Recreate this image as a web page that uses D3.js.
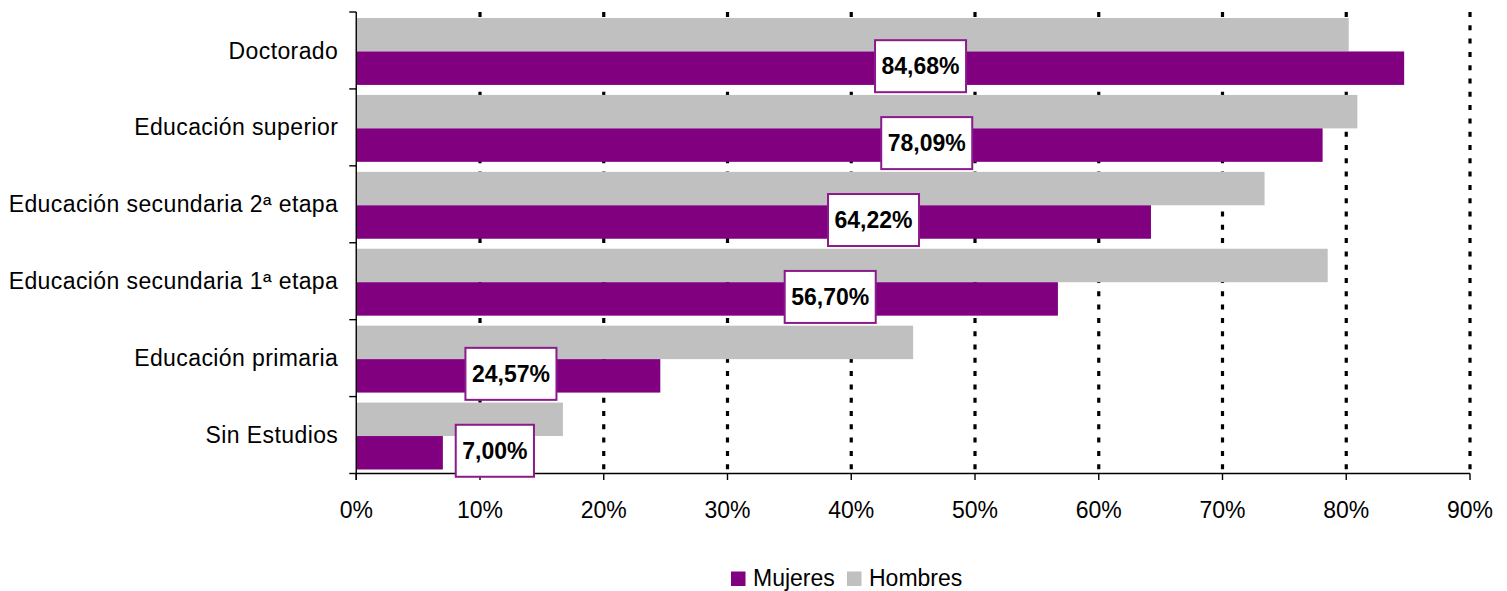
<!DOCTYPE html>
<html>
<head>
<meta charset="utf-8">
<script src="https://cdn.jsdelivr.net/npm/d3@7"></script>
<style>
  html, body { margin: 0; padding: 0; background: #fff; }
  svg { display: block; }
  text { font-family: "Liberation Sans", Arial, sans-serif; }
</style>
</head>
<body>
<svg id="chart" width="1507" height="591"></svg>
<script>
// ---- Data ----
const categories = ["Doctorado", "Educación superior", "Educación secundaria 2ª etapa",
                    "Educación secundaria 1ª etapa", "Educación primaria", "Sin Estudios"];
const mujeres = [84.68, 78.09, 64.22, 56.70, 24.57, 7.00];
const hombres = [80.2, 80.9, 73.4, 78.5, 45.0, 16.7];
const mujeresLabels = ["84,68%", "78,09%", "64,22%", "56,70%", "24,57%", "7,00%"];
// label box centres, in axis units (%), as placed in the original chart
const labelCenter = [45.6, 46.1, 41.8, 38.3, 12.5, 11.2];
const xTicks = [0, 10, 20, 30, 40, 50, 60, 70, 80, 90];
const seriesNames = ["Mujeres", "Hombres"];
const colors = { Mujeres: "#800080", Hombres: "#C0C0C0" };

// ---- Layout ----
const svg = d3.select("#chart");
const x = d3.scaleLinear().domain([0, 90]).range([356.25, 1470]);
const y = d3.scaleBand().domain(categories).range([12, 473.5]).padding(0);
const bw = y.bandwidth();
const inner = d3.scaleBand().domain(["Hombres", "Mujeres"]).range([bw * 0.078, bw * 0.948]).padding(0);

const plotTop = 12, plotBottom = 473.5;

// gridlines (dotted)
svg.append("g").selectAll("line")
  .data(xTicks.filter(d => d > 0))
  .join("line")
  .attr("x1", d => x(d)).attr("x2", d => x(d))
  .attr("y1", plotTop).attr("y2", plotBottom)
  .attr("stroke", "#000").attr("stroke-width", 3.2)
  .attr("stroke-dasharray", "5,8.3");

// bars
const rows = categories.map((c, i) => ({ c, m: mujeres[i], h: hombres[i], lab: mujeresLabels[i], lc: labelCenter[i] }));
const g = svg.append("g");
g.selectAll("rect.h").data(rows).join("rect")
  .attr("x", x(0)).attr("y", d => y(d.c) + inner("Hombres"))
  .attr("width", d => x(d.h) - x(0)).attr("height", inner.bandwidth())
  .attr("fill", colors.Hombres);
g.selectAll("rect.m").data(rows).join("rect")
  .attr("x", x(0)).attr("y", d => y(d.c) + inner("Mujeres"))
  .attr("width", d => x(d.m) - x(0)).attr("height", inner.bandwidth())
  .attr("fill", colors.Mujeres);

// axes
const yAxis = svg.append("g").attr("transform", `translate(${x(0)},0)`);
yAxis.append("line").attr("x1", 0).attr("x2", 0).attr("y1", plotTop).attr("y2", plotBottom + 6.5)
  .attr("stroke", "#000").attr("stroke-width", 1.4);
const bounds = categories.map(c => y(c)).concat([plotBottom]);
yAxis.selectAll("line.t").data(bounds).join("line")
  .attr("x1", -7).attr("x2", 0).attr("y1", d => d).attr("y2", d => d)
  .attr("stroke", "#000").attr("stroke-width", 1.4);
yAxis.selectAll("text").data(categories).join("text")
  .attr("x", -18).attr("y", d => y(d) + bw / 2).attr("dy", "0.35em")
  .attr("text-anchor", "end").attr("font-size", 23).attr("letter-spacing", 0.4)
  .attr("fill", "#000").text(d => d);

const xAxis = svg.append("g").attr("transform", `translate(0,${plotBottom})`);
xAxis.append("line").attr("x1", x(0)).attr("x2", x(90)).attr("y1", 0).attr("y2", 0)
  .attr("stroke", "#000").attr("stroke-width", 1.6);
xAxis.selectAll("line.t").data(xTicks).join("line")
  .attr("x1", d => x(d)).attr("x2", d => x(d)).attr("y1", 0).attr("y2", 6.5)
  .attr("stroke", "#000").attr("stroke-width", 1.4);
xAxis.selectAll("text").data(xTicks).join("text")
  .attr("x", d => x(d)).attr("y", 44.5)
  .attr("text-anchor", "middle").attr("font-size", 23)
  .attr("fill", "#000").text(d => d + "%");

// data labels
const lg = svg.append("g");
rows.forEach(d => {
  const cy = y(d.c) + inner("Mujeres") + inner.bandwidth() / 2 - 2;
  const cx = x(d.lc);
  const t = lg.append("text")
    .attr("x", cx).attr("y", cy).attr("dy", "0.36em")
    .attr("text-anchor", "middle").attr("font-size", 23).attr("font-weight", "bold")
    .attr("fill", "#000").text(d.lab);
  const w = t.node().getComputedTextLength() + 13;
  lg.insert("rect", () => t.node())
    .attr("x", cx - w / 2).attr("y", cy - 26).attr("width", w).attr("height", 52)
    .attr("fill", "#fff").attr("stroke", "#8B1A8B").attr("stroke-width", 2);
});

// legend
const leg = svg.append("g");
const legX = [731, 847];
seriesNames.forEach((s, i) => {
  leg.append("rect").attr("x", legX[i]).attr("y", 571.5).attr("width", 14.5).attr("height", 14.5)
    .attr("fill", colors[s]);
  leg.append("text").attr("x", legX[i] + 22).attr("y", 585.5)
    .attr("font-size", 23).attr("fill", "#000").text(s);
});
</script>
</body>
</html>
